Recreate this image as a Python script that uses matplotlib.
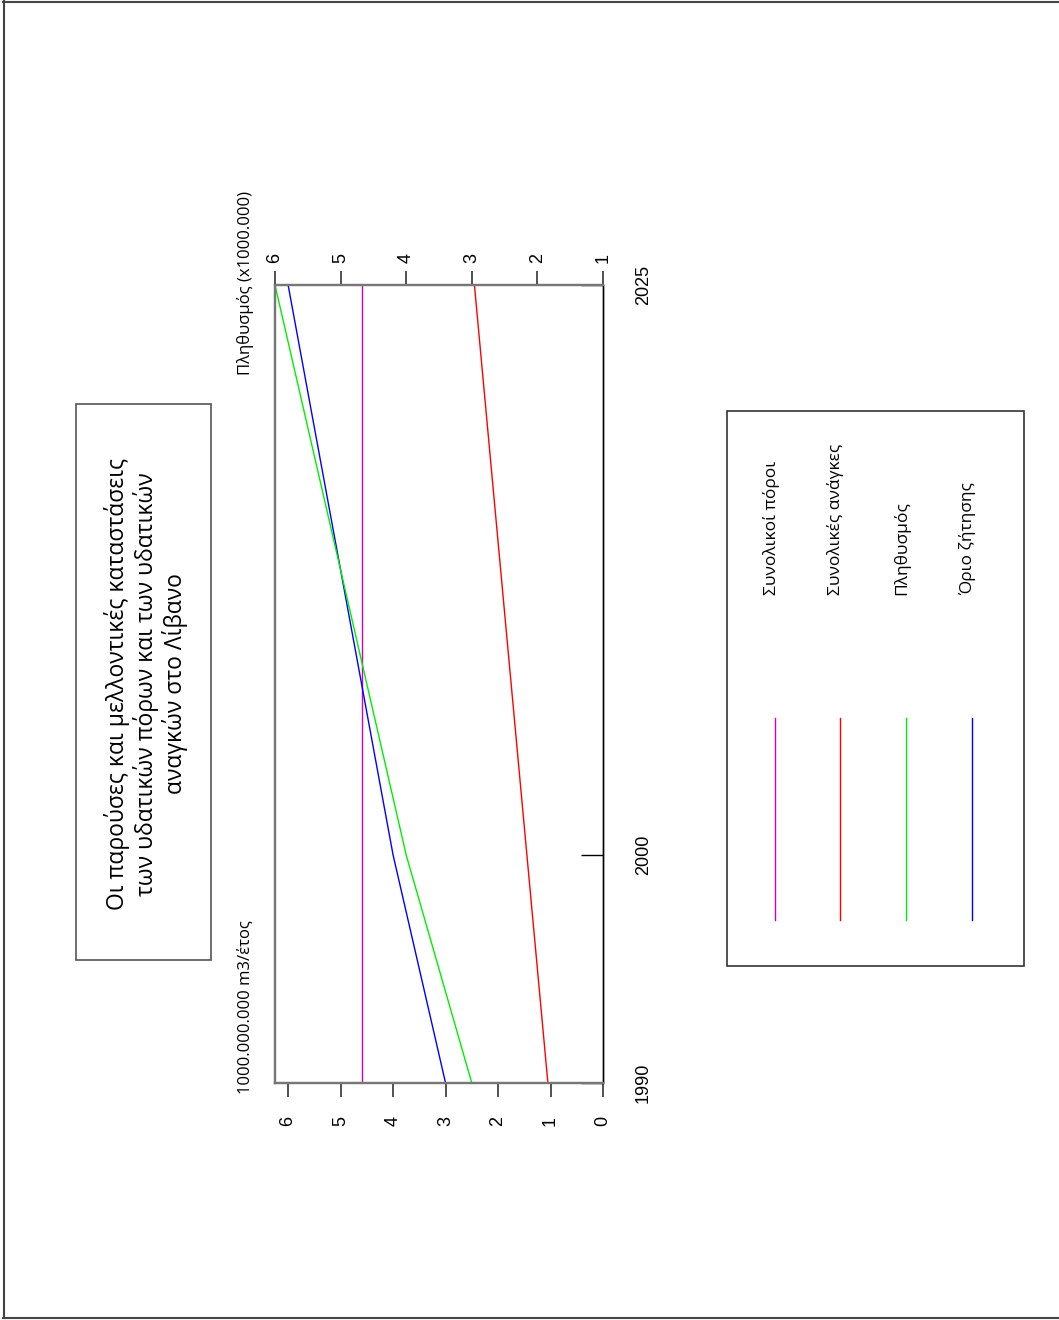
import matplotlib
matplotlib.use("Agg")
import matplotlib.pyplot as plt
from matplotlib.patches import Rectangle
from matplotlib.lines import Line2D

# water resources / needs (10^9 m3 per year) and population (x1000.000)
years = [1990, 2000, 2025]
total_resources = [4.6, 4.6, 4.6]
total_needs = [1.05, 1.45, 2.45]
demand_limit = [3.0, 4.0, 6.0]
population = [3.0, 4.0, 6.0]

water_ticks = [0, 1, 2, 3, 4, 5, 6]
pop_ticks = [1, 2, 3, 4, 5, 6]
year_ticks = [1990, 2000, 2025]

title = ("Οι παρούσες και μελλοντικές καταστάσεις\n"
         "των υδατικών πόρων και των υδατικών\n"
         "αναγκών στο Λίβανο")
legend_labels = ["Συνολικοί πόροι", "Συνολικές ανάγκες", "Πληθυσμός", "Όριο ζήτησης"]
legend_colors = ["#cc00cc", "#ff0000", "#00ee00", "#0000ff"]

W, H = 1059, 1320
fig = plt.figure(figsize=(W / 100, H / 100), dpi=100)
text_font = ["Open Sans", "DejaVu Sans"]
num_font = "Liberation Sans"


def fx(px):
    return px / W


def fy(py):
    return 1 - py / H


# page frame
for xs, ys in [([3, 1059], [1.5, 1.5]), ([3.5, 3.5], [1, 1318]), ([3, 1059], [1318, 1318])]:
    fig.add_artist(Line2D([fx(x) for x in xs], [fy(y) for y in ys], color="#444444", lw=1.5))

# the chart is laid out turned a quarter turn: years run upwards, values run leftwards
ax = fig.add_axes([fx(275), fy(1083), (603 - 275) / W, (1083 - 285) / H])
ax.plot(total_resources, years, color=legend_colors[0], lw=1.0)
ax.plot(total_needs, years, color=legend_colors[1], lw=1.0)
ax.plot(demand_limit, years, color=legend_colors[3], lw=1.0)
ax.set_xlim(6.25, 0)
ax.set_ylim(1990, 2025)

ax.set_xticks(water_ticks)
ax.set_xticklabels([str(t) for t in water_ticks], rotation=90, fontsize=13, family=num_font)
ax.tick_params(axis="x", direction="out", length=10, width=1.2, color="#333333", pad=14)

ax.yaxis.tick_right()
ax.set_yticks(year_ticks)
ax.set_yticklabels([str(t) for t in year_ticks], rotation=90, fontsize=13, family=num_font, va="center")
ax.tick_params(axis="y", direction="in", length=16, width=1.0, color="black", pad=23)

ax2 = ax.twiny()
ax2.plot(population, years, color=legend_colors[2], lw=1.0)
ax2.set_xlim(6, 1)
ax2.set_xticks(pop_ticks)
ax2.set_xticklabels([str(t) for t in pop_ticks], rotation=90, fontsize=13, family=num_font)
ax2.tick_params(axis="x", direction="out", length=10, width=1.2, color="#333333", pad=6)

for a in (ax, ax2):
    for side in ("top", "bottom", "left"):
        a.spines[side].set_color("#777777")
        a.spines[side].set_linewidth(1.6)
    a.spines["right"].set_color("black")
    a.spines["right"].set_linewidth(1.0)

# axis captions
fig.text(fx(246), fy(1094), "1000.000.000 m3/έτος", rotation=90, ha="center", va="bottom",
         fontsize=12, family=text_font)
fig.text(fx(246), fy(375), "Πληθυσμός (x1000.000)", rotation=90, ha="center", va="bottom",
         fontsize=12, family=text_font)

# title box
fig.add_artist(Rectangle((fx(76), fy(960)), (211 - 76) / W, (960 - 404) / H,
                         fill=False, edgecolor="#555555", lw=1.2))
fig.text(fx(146), fy(684), title, rotation=90, ha="center", va="center",
         multialignment="center", fontsize=16.5, family=text_font, linespacing=1.15)

# legend box
fig.add_artist(Rectangle((fx(727), fy(966)), (1024 - 727) / W, (966 - 411) / H,
                         fill=False, edgecolor="#333333", lw=1.2))
line_x = [775, 840, 906, 972]
for lx, lab, col in zip(line_x, legend_labels, legend_colors):
    fig.add_artist(Line2D([fx(lx), fx(lx)], [fy(920), fy(718)], color=col, lw=1.0))
    fig.text(fx(lx - 4), fy(595), lab, rotation=90, ha="center", va="bottom",
             fontsize=12.5, family=text_font)

fig.savefig("out.png", dpi=100)
